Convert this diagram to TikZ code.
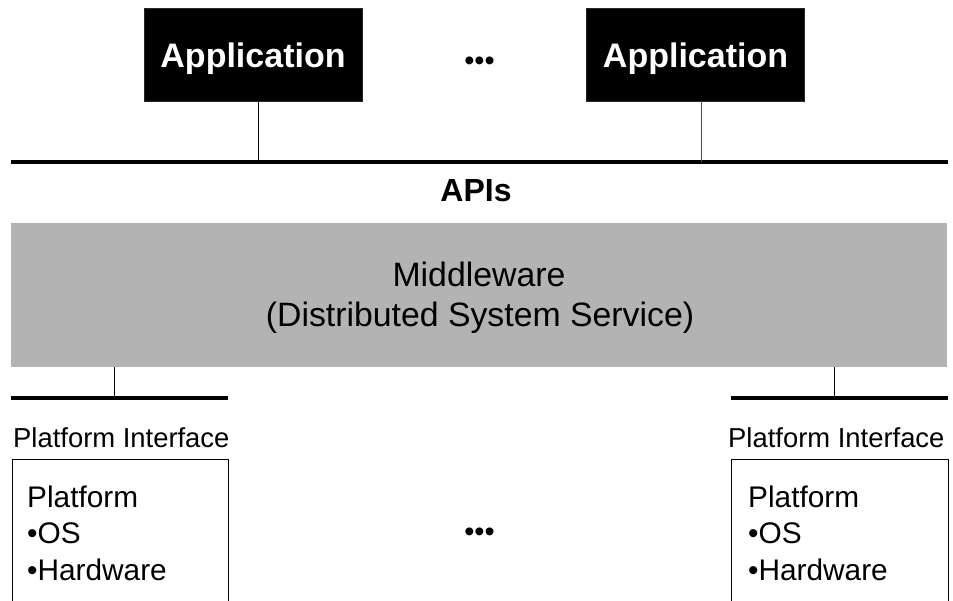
\documentclass[tikz,border=0pt]{standalone}
\usepackage{fontspec}
\setmainfont{Liberation Sans}
\begin{document}
\begin{tikzpicture}[x=1pt,y=-1pt,
  appbox/.style={fill=black, draw=black!85, line width=0.8pt,
    minimum width=218pt, minimum height=93pt, inner sep=0pt,
    text height=27pt, text depth=0pt, text=white,
    font=\fontsize{34}{40}\selectfont\bfseries},
  mwbox/.style={fill=mwgray, draw=none, minimum width=936pt,
    minimum height=144pt, inner sep=0pt},
  platbox/.style={draw=black, line width=1pt, fill=white,
    minimum height=200pt, inner sep=0pt, anchor=north west},
  bus/.style={line width=4pt},
  link/.style={line width=1pt},
  plain/.style={inner sep=0pt, font=\fontsize{27.4}{31}\selectfont},
  mwtext/.style={inner sep=0pt, anchor=base, font=\fontsize{33.8}{40}\selectfont},
  plattext/.style={inner sep=0pt, anchor=base west, font=\fontsize{29.8}{34}\selectfont},
  dots/.style={inner sep=0pt, font=\fontsize{29}{34}\selectfont},
  title/.style={inner sep=0pt, anchor=base, font=\fontsize{32}{38}\selectfont\bfseries}
]
\definecolor{mwgray}{HTML}{B3B3B3}
\clip (0,0) rectangle (953,601);

% applications on top
\node[appbox] (app1) at (253,54.5) {Application};
\node[appbox] (app2) at (695.5,54.5) {Application};
\node[dots] (topdots) at (479.5,64) {•••};

% API bus
\coordinate (apiW) at (11,162);
\coordinate (apiE) at (948,162);
\coordinate (tapL) at (258,162);
\coordinate (tapR) at (701,162);
\draw[bus] (apiW) -- (apiE);
\draw[link] (app1.south -| tapL) -- (tapL);
\draw[link, black!70] (app2.south -| tapR) -- (tapR);
\node[title] (apis) at (476,202) {APIs};

% middleware layer
\node[mwbox] (mw) at (479,295) {};
\node[mwtext] (mw1) at (479,287) {Middleware};
\node[mwtext] (mw2) at (480,327) {(Distributed System Service)};

% platform interfaces
\coordinate (pifL) at (114,398);
\coordinate (pifLW) at (11,398);
\coordinate (pifLE) at (228,398);
\coordinate (pifR) at (834,398);
\coordinate (pifRW) at (731,398);
\coordinate (pifRE) at (948,398);
\draw[link] (mw.south -| pifL) -- (pifL);
\draw[link] (mw.south -| pifR) -- (pifR);
\draw[bus] (pifLW) -- (pifLE);
\draw[bus] (pifRW) -- (pifRE);
\node[plain, anchor=base west] (pil) at (13,447) {Platform Interface};
\node[plain, anchor=base west] (pir) at (728,447) {Platform Interface};

% platforms
\node[platbox, minimum width=216pt] (plat1) at (12,459) {};
\node[platbox, minimum width=217pt] (plat2) at (731,459) {};
\node[plattext] (p1a) at (27,507) {Platform};
\node[plattext] (p1b) at (27,543) {•OS};
\node[plattext] (p1c) at (27,580) {•Hardware};
\node[plattext] (p2a) at (748,507) {Platform};
\node[plattext] (p2b) at (748,543) {•OS};
\node[plattext] (p2c) at (748,580) {•Hardware};
\node[dots] (botdots) at (479.5,535) {•••};
\end{tikzpicture}
\end{document}
